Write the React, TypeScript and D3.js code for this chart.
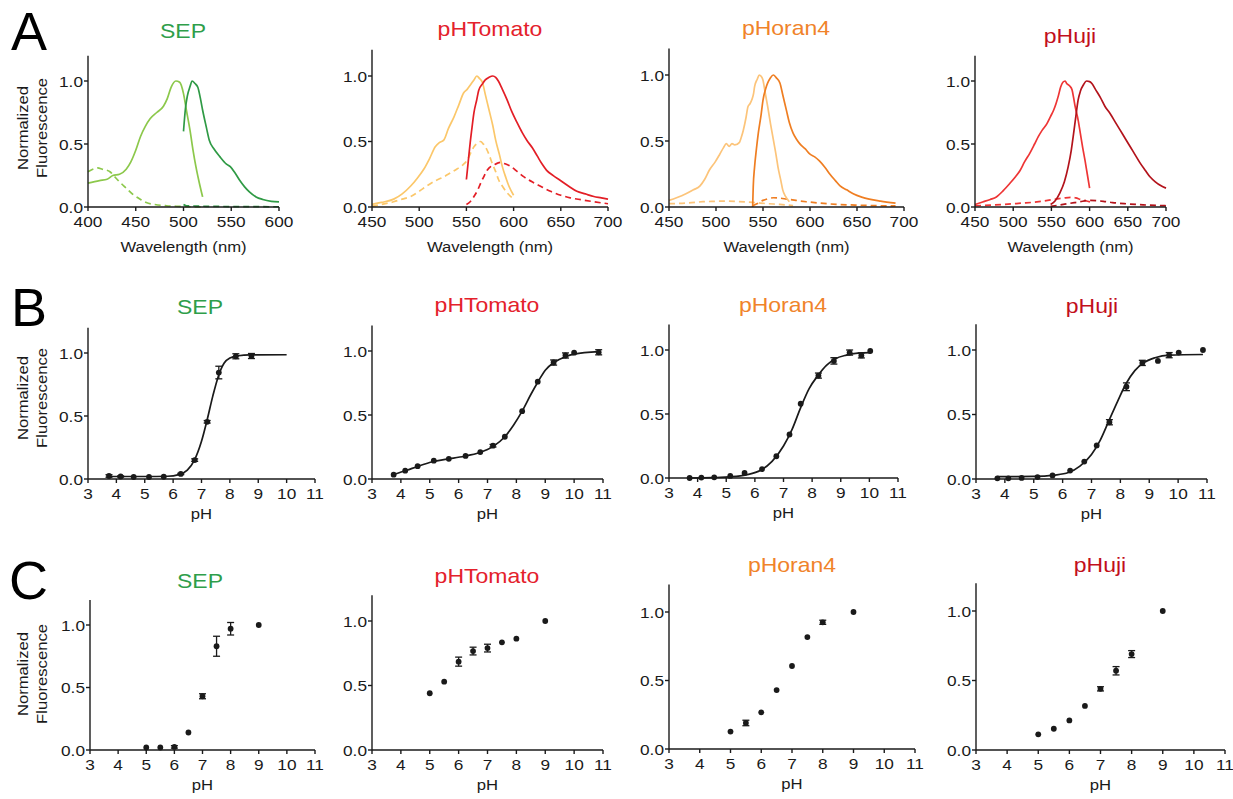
import React from "react";
import * as d3 from "d3";

type Pt = [number, number];

const proteins = ["SEP", "pHTomato", "pHoran4", "pHuji"];
const titleColors = ["#2f9e4a", "#e4212b", "#f0832a", "#c20f1c"];
const exColors = ["#8cc84b", "#fbc76a", "#fcc47a", "#ee3535"];
const emColors = ["#2f9a45", "#e31e26", "#ef7e22", "#b3131b"];

// A: spectra, solid = pH 7.4, dashed = pH 5.5
const sepEx7: Pt[] = [[400,0.19],[412,0.21],[420,0.22],[426,0.25],[433,0.26],[440,0.3],[445,0.36],[450,0.45],[455,0.56],[460,0.64],[465,0.7],[472,0.75],[479,0.8],[483,0.86],[487,0.95],[492,1.0],[496,0.99],[500,0.9],[503,0.77],[507,0.6],[510,0.45],[513,0.32],[516,0.21],[520,0.08]];
const sepEm7: Pt[] = [[500,0.6],[502,0.78],[504,0.88],[507,0.96],[509,1.0],[512,0.98],[515,0.95],[518,0.85],[520,0.77],[524,0.63],[527,0.53],[532,0.46],[538,0.4],[545,0.34],[549,0.32],[554,0.27],[559,0.21],[564,0.16],[569,0.12],[576,0.08],[583,0.06],[592,0.045],[600,0.04]];
const sepEx55: Pt[] = [[400,0.28],[405,0.3],[410,0.31],[415,0.3],[423,0.28],[428,0.24],[433,0.2],[440,0.15],[447,0.1],[455,0.06],[461,0.035],[470,0.02],[482,0.01],[496,0.005],[520,0.0]];
const sepEm55: Pt[] = [[500,0.02],[503,0.01],[510,0.008],[530,0.005],[560,0.003],[600,0.002]];

const tomEx7: Pt[] = [[450,0.02],[460,0.035],[473,0.06],[482,0.1],[491,0.16],[498,0.22],[505,0.29],[511,0.37],[517,0.46],[521,0.49],[526,0.51],[531,0.6],[537,0.69],[542,0.78],[547,0.87],[551,0.9],[554,0.93],[558,0.97],[561,1.0],[564,0.98],[567,0.95],[570,0.86],[574,0.74],[578,0.62],[581,0.51],[585,0.4],[588,0.31],[592,0.22],[595,0.16],[600,0.09]];
const tomEm7: Pt[] = [[550,0.21],[552,0.35],[554,0.49],[556,0.61],[558,0.72],[561,0.82],[563,0.89],[567,0.94],[570,0.97],[574,0.99],[578,1.0],[581,0.99],[584,0.96],[588,0.9],[593,0.82],[598,0.73],[604,0.64],[609,0.57],[614,0.51],[620,0.45],[625,0.39],[630,0.33],[635,0.28],[642,0.24],[650,0.2],[658,0.16],[667,0.12],[676,0.1],[685,0.08],[693,0.07],[700,0.06]];
const tomEx55: Pt[] = [[450,0.005],[460,0.02],[473,0.04],[482,0.06],[491,0.08],[500,0.12],[508,0.16],[517,0.2],[526,0.23],[533,0.26],[540,0.29],[546,0.32],[551,0.36],[555,0.42],[558,0.46],[562,0.49],[565,0.5],[568,0.48],[570,0.46],[574,0.4],[577,0.34],[581,0.27],[584,0.21],[588,0.16],[593,0.11],[600,0.06]];
const tomEm55: Pt[] = [[550,0.02],[554,0.04],[558,0.08],[562,0.13],[565,0.18],[569,0.24],[572,0.28],[576,0.31],[579,0.32],[583,0.335],[586,0.34],[591,0.33],[597,0.31],[604,0.27],[611,0.23],[620,0.19],[628,0.16],[639,0.12],[650,0.09],[660,0.07],[672,0.055],[685,0.04],[700,0.025]];

const horEx7: Pt[] = [[450,0.05],[458,0.07],[468,0.1],[476,0.13],[483,0.16],[488,0.21],[493,0.28],[499,0.34],[504,0.4],[508,0.45],[511,0.48],[514,0.46],[517,0.48],[520,0.47],[525,0.49],[527,0.53],[529,0.58],[532,0.68],[534,0.76],[536,0.78],[538,0.81],[540,0.86],[541,0.91],[544,0.97],[546,1.0],[548,0.99],[550,0.96],[552,0.88],[555,0.76],[558,0.63],[561,0.51],[564,0.39],[566,0.3],[569,0.2],[571,0.13],[574,0.08],[578,0.04]];
const horEm7: Pt[] = [[539,0.0],[539.3,0.08],[539.6,0.15],[541,0.3],[543,0.44],[545,0.56],[548,0.7],[550,0.81],[553,0.9],[555,0.94],[558,0.98],[561,1.0],[564,0.98],[568,0.94],[571,0.85],[575,0.73],[578,0.64],[582,0.56],[586,0.51],[589,0.48],[595,0.44],[600,0.4],[605,0.38],[610,0.35],[616,0.3],[621,0.25],[627,0.2],[632,0.16],[639,0.13],[646,0.1],[655,0.075],[663,0.06],[675,0.045],[691,0.03]];
const horEx55: Pt[] = [[450,0.025],[470,0.03],[486,0.04],[500,0.043],[511,0.045],[525,0.04],[539,0.035],[555,0.025],[568,0.02],[582,0.01]];
const horEm55: Pt[] = [[539,0.01],[545,0.03],[550,0.05],[555,0.062],[561,0.07],[568,0.067],[575,0.06],[585,0.05],[596,0.04],[610,0.03],[628,0.02],[650,0.014],[670,0.01],[691,0.008]];

const hujEx7: Pt[] = [[450,0.02],[460,0.04],[470,0.06],[478,0.08],[487,0.13],[496,0.19],[503,0.24],[509,0.29],[515,0.36],[522,0.43],[528,0.5],[533,0.56],[538,0.61],[544,0.66],[549,0.72],[553,0.77],[556,0.82],[559,0.88],[562,0.95],[565,0.99],[568,1.0],[570,0.98],[574,0.96],[577,0.93],[579,0.87],[581,0.8],[585,0.69],[588,0.58],[591,0.47],[594,0.37],[597,0.26],[600,0.15]];
const hujEm7: Pt[] = [[549,0.02],[555,0.05],[561,0.11],[567,0.2],[572,0.32],[576,0.45],[579,0.58],[582,0.72],[585,0.85],[588,0.92],[592,0.97],[596,1.0],[600,0.995],[603,0.98],[608,0.93],[614,0.87],[620,0.8],[627,0.74],[634,0.67],[640,0.61],[647,0.54],[653,0.48],[660,0.41],[666,0.35],[673,0.29],[679,0.24],[686,0.2],[693,0.17],[700,0.15]];
const hujEx55: Pt[] = [[450,0.01],[470,0.015],[487,0.02],[510,0.03],[531,0.04],[545,0.052],[553,0.06],[565,0.07],[575,0.077],[582,0.072],[588,0.06],[595,0.05],[601,0.04]];
const hujEm55: Pt[] = [[549,0.005],[560,0.015],[570,0.025],[580,0.035],[588,0.042],[595,0.05],[601,0.053],[610,0.05],[618,0.045],[630,0.035],[649,0.025],[670,0.017],[700,0.01]];

const spectra = [
  [sepEx7, sepEm7, sepEx55, sepEm55],
  [tomEx7, tomEm7, tomEx55, tomEm55],
  [horEx7, horEm7, horEx55, horEm55],
  [hujEx7, hujEm7, hujEx55, hujEm55],
];
const wlDomains: Pt[] = [[400, 600], [450, 700], [450, 700], [450, 700]];
const wlTicks = [[400, 450, 500, 550, 600], [450, 500, 550, 600, 650, 700], [450, 500, 550, 600, 650, 700], [450, 500, 550, 600, 650, 700]];

// B: pH titration of purified protein, with fit
const sepPH = [3.74, 4.15, 4.61, 5.15, 5.67, 6.27, 6.76, 7.2, 7.61, 8.21, 8.76];
const sepB = [0.024, 0.02, 0.016, 0.016, 0.018, 0.04, 0.15, 0.454, 0.845, 0.974, 0.976];
const sepBErr = [0.01, 0.005, 0, 0, 0, 0.005, 0.01, 0.01, 0.05, 0.02, 0.02];
const sepFit: Pt[] = [[3.74,0.02],[5,0.02],[5.8,0.022],[6.2,0.035],[6.5,0.07],[6.75,0.15],[7.0,0.3],[7.2,0.47],[7.4,0.66],[7.6,0.82],[7.8,0.92],[8.0,0.96],[8.3,0.978],[8.7,0.985],[10,0.986]];

const tomPH = [3.75, 4.15, 4.58, 5.14, 5.66, 6.24, 6.75, 7.19, 7.6, 8.2, 8.74, 9.29, 9.7, 10.0, 10.85];
const tomB = [0.034, 0.065, 0.1, 0.143, 0.158, 0.18, 0.21, 0.26, 0.33, 0.53, 0.76, 0.91, 0.965, 0.987, 0.99];
const tomBErr = [0, 0, 0, 0, 0, 0, 0, 0.01, 0, 0, 0, 0.02, 0.02, 0, 0.02];
const tomFit: Pt[] = [[3.75,0.035],[4.2,0.068],[4.6,0.1],[5.1,0.135],[5.6,0.155],[6.2,0.178],[6.7,0.205],[7.2,0.255],[7.6,0.33],[7.9,0.42],[8.2,0.53],[8.5,0.66],[8.75,0.76],[9.0,0.85],[9.3,0.91],[9.7,0.955],[10.0,0.975],[10.85,0.995]];

const horPH = [3.72, 4.13, 4.58, 5.14, 5.64, 6.25, 6.75, 7.21, 7.6, 8.22, 8.76, 9.31, 9.72, 10.03];
const horB = [0, 0.003, 0.005, 0.016, 0.04, 0.07, 0.17, 0.34, 0.58, 0.8, 0.915, 0.98, 0.958, 0.992];
const horBErr = [0, 0, 0, 0, 0, 0, 0, 0, 0, 0.02, 0.025, 0.02, 0.02, 0];
const horFit: Pt[] = [[3.72,0.0],[4.5,0.003],[5.2,0.01],[5.7,0.025],[6.2,0.06],[6.6,0.13],[7.0,0.25],[7.3,0.38],[7.6,0.55],[7.9,0.7],[8.2,0.8],[8.5,0.88],[8.8,0.93],[9.2,0.96],[9.6,0.975],[10.03,0.98]];

const hujPH = [3.74, 4.12, 4.58, 5.13, 5.65, 6.26, 6.75, 7.18, 7.62, 8.21, 8.76, 9.3, 9.69, 10.02, 10.86];
const hujB = [0.005, 0.005, 0.008, 0.015, 0.028, 0.065, 0.135, 0.26, 0.44, 0.715, 0.9, 0.915, 0.96, 0.98, 1.0];
const hujBErr = [0, 0, 0, 0, 0, 0, 0, 0, 0.02, 0.03, 0.02, 0, 0.02, 0, 0];
const hujFit: Pt[] = [[3.74,0.018],[5.0,0.02],[5.7,0.03],[6.2,0.05],[6.6,0.1],[7.0,0.19],[7.3,0.3],[7.6,0.45],[7.9,0.6],[8.2,0.74],[8.5,0.84],[8.8,0.9],[9.2,0.94],[9.7,0.96],[10.86,0.965]];

const titrationPH = [sepPH, tomPH, horPH, hujPH];
const titrationVal = [sepB, tomB, horB, hujB];
const titrationErr = [sepBErr, tomBErr, horBErr, hujBErr];
const titrationFit = [sepFit, tomFit, horFit, hujFit];

// C: in-cell pH response
const cellPH = [5, 5.5, 6, 6.5, 7, 7.5, 8, 9];
const sepC = [0.02, 0.02, 0.025, 0.14, 0.43, 0.83, 0.97, 1.0];
const sepCErr = [0, 0, 0.01, 0, 0.02, 0.08, 0.05, 0];
const tomC = [0.44, 0.53, 0.685, 0.767, 0.79, 0.835, 0.863, 1.0];
const tomCErr = [0, 0, 0.035, 0.03, 0.03, 0, 0, 0];
const horC = [0.127, 0.19, 0.268, 0.43, 0.606, 0.817, 0.925, 1.0];
const horCErr = [0, 0.02, 0, 0, 0, 0, 0.015, 0];
const hujC = [0.113, 0.153, 0.213, 0.317, 0.44, 0.57, 0.69, 1.0];
const hujCErr = [0, 0, 0, 0, 0.015, 0.03, 0.025, 0];
const cellVal = [sepC, tomC, horC, hujC];
const cellErr = [sepCErr, tomCErr, horCErr, hujCErr];

const phTicks = [3, 4, 5, 6, 7, 8, 9, 10, 11];
const yTicks = [0, 0.5, 1.0];

// layout: axis left, axis right, y of 0, y of 1
const boxesA = [[88, 279, 207, 81], [372, 608, 207, 76], [669, 904, 207, 75], [975, 1166, 207, 81]];
const boxesB = [[88, 315, 479, 353], [372, 603, 479, 351], [669, 898, 478, 350], [976, 1207, 479, 350]];
const boxesC = [[90, 315, 750, 625], [372, 603, 750, 621], [669, 915, 749, 612], [976, 1225, 750, 611]];
const titlesA = [[183, 38], [490, 36], [786, 35], [1070, 43]];
const titlesB = [[200, 314], [487, 312], [783, 312], [1092, 313]];
const titlesC = [[200, 588], [487, 583], [792, 572], [1100, 572]];

const FONT = "'Liberation Sans', Arial, Helvetica, sans-serif";
const SX = 1.15;
const INK = "#1a1a1a";

function Txt({ x, y, size = 15, anchor = "middle", fill = INK, rotate = 0, children }: any) {
  return (
    <g transform={`translate(${x},${y}) rotate(${rotate}) scale(${SX},1)`}>
      <text textAnchor={anchor} fontSize={size} fill={fill} fontFamily={FONT}>{children}</text>
    </g>
  );
}

function Axes({ box, xs, ys, xTicks, xLabel, labelGap }: any) {
  const [x0, x1, yz] = box;
  const top = ys(1.2);
  const fmt = d3.format(".1f");
  return (
    <g>
      <line x1={x0} x2={x0} y1={top} y2={yz} stroke={INK} strokeWidth={1.4} />
      <line x1={x0} x2={x1} y1={yz} y2={yz} stroke={INK} strokeWidth={1.4} />
      {yTicks.map((t) => (
        <g key={"y" + t}>
          <line x1={x0 - 4} x2={x0} y1={ys(t)} y2={ys(t)} stroke={INK} strokeWidth={1.4} />
          <Txt x={x0 - 5} y={ys(t) + 5.5} anchor="end">{fmt(t)}</Txt>
        </g>
      ))}
      {xTicks.map((t: number) => (
        <g key={"x" + t}>
          <line x1={xs(t)} x2={xs(t)} y1={yz} y2={yz + 4} stroke={INK} strokeWidth={1.4} />
          <Txt x={xs(t)} y={yz + 20}>{t}</Txt>
        </g>
      ))}
      <Txt x={(x0 + x1) / 2} y={yz + labelGap} size={14.5}>{xLabel}</Txt>
    </g>
  );
}

function YTitle({ cy }: { cy: number }) {
  return (
    <g>
      <Txt x={28} y={cy} rotate={-90} size={14.5}>Normalized</Txt>
      <Txt x={47} y={cy} rotate={-90} size={14.5}>Fluorescence</Txt>
    </g>
  );
}

function Points({ xs, ys, px, vals, errs }: any) {
  return (
    <g>
      {px.map((p: number, i: number) => (
        <g key={i}>
          {errs[i] > 0 && (
            <g stroke={INK} strokeWidth={1.3}>
              <line x1={xs(p)} x2={xs(p)} y1={ys(vals[i] - errs[i])} y2={ys(vals[i] + errs[i])} />
              <line x1={xs(p) - 3.5} x2={xs(p) + 3.5} y1={ys(vals[i] - errs[i])} y2={ys(vals[i] - errs[i])} />
              <line x1={xs(p) - 3.5} x2={xs(p) + 3.5} y1={ys(vals[i] + errs[i])} y2={ys(vals[i] + errs[i])} />
            </g>
          )}
          <circle cx={xs(p)} cy={ys(vals[i])} r={2.9} fill={INK} />
        </g>
      ))}
    </g>
  );
}

function scalesFor(box: number[], domain: Pt) {
  const [x0, x1, yz, y1] = box;
  const xs = d3.scaleLinear().domain(domain).range([x0, x1]);
  const ys = d3.scaleLinear().domain([0, 1]).range([yz, y1]);
  return { xs, ys };
}

export default function App() {
  const rowA = proteins.map((p, i) => {
    const { xs, ys } = scalesFor(boxesA[i], wlDomains[i]);
    const line = d3.line<Pt>().x((d) => xs(d[0])).y((d) => ys(d[1])).curve(d3.curveMonotoneX);
    const [ex7, em7, ex55, em55] = spectra[i];
    return (
      <g key={"A" + p}>
        <Txt x={titlesA[i][0]} y={titlesA[i][1]} size={20} fill={titleColors[i]}>{p}</Txt>
        <path d={line(ex55) || ""} fill="none" stroke={exColors[i]} strokeWidth={1.7} strokeDasharray="6,4" />
        <path d={line(em55) || ""} fill="none" stroke={emColors[i]} strokeWidth={1.7} strokeDasharray="6,4" />
        <path d={line(ex7) || ""} fill="none" stroke={exColors[i]} strokeWidth={1.7} />
        <path d={line(em7) || ""} fill="none" stroke={emColors[i]} strokeWidth={1.7} />
        <Axes box={boxesA[i]} xs={xs} ys={ys} xTicks={wlTicks[i]} xLabel="Wavelength (nm)" labelGap={45} />
      </g>
    );
  });

  const rowB = proteins.map((p, i) => {
    const { xs, ys } = scalesFor(boxesB[i], [3, 11]);
    const line = d3.line<Pt>().x((d) => xs(d[0])).y((d) => ys(d[1])).curve(d3.curveMonotoneX);
    return (
      <g key={"B" + p}>
        <Txt x={titlesB[i][0]} y={titlesB[i][1]} size={20} fill={titleColors[i]}>{p}</Txt>
        <path d={line(titrationFit[i]) || ""} fill="none" stroke={INK} strokeWidth={1.7} />
        <Points xs={xs} ys={ys} px={titrationPH[i]} vals={titrationVal[i]} errs={titrationErr[i]} />
        <Axes box={boxesB[i]} xs={xs} ys={ys} xTicks={phTicks} xLabel="pH" labelGap={40} />
      </g>
    );
  });

  const rowC = proteins.map((p, i) => {
    const { xs, ys } = scalesFor(boxesC[i], [3, 11]);
    return (
      <g key={"C" + p}>
        <Txt x={titlesC[i][0]} y={titlesC[i][1]} size={20} fill={titleColors[i]}>{p}</Txt>
        <Points xs={xs} ys={ys} px={cellPH} vals={cellVal[i]} errs={cellErr[i]} />
        <Axes box={boxesC[i]} xs={xs} ys={ys} xTicks={phTicks} xLabel="pH" labelGap={40} />
      </g>
    );
  });

  return (
    <svg width={1233} height={799} style={{ position: "absolute", left: 0, top: 0, background: "#fff" }}>
      <rect width={1233} height={799} fill="#fff" />
      <text x={11} y={50} fontSize={54} fontFamily={FONT} fill="#000">A</text>
      <text x={11} y={326} fontSize={54} fontFamily={FONT} fill="#000">B</text>
      <text x={9} y={599} fontSize={54} fontFamily={FONT} fill="#000">C</text>
      <YTitle cy={128} />
      <YTitle cy={398} />
      <YTitle cy={674} />
      {rowA}
      {rowB}
      {rowC}
    </svg>
  );
}
